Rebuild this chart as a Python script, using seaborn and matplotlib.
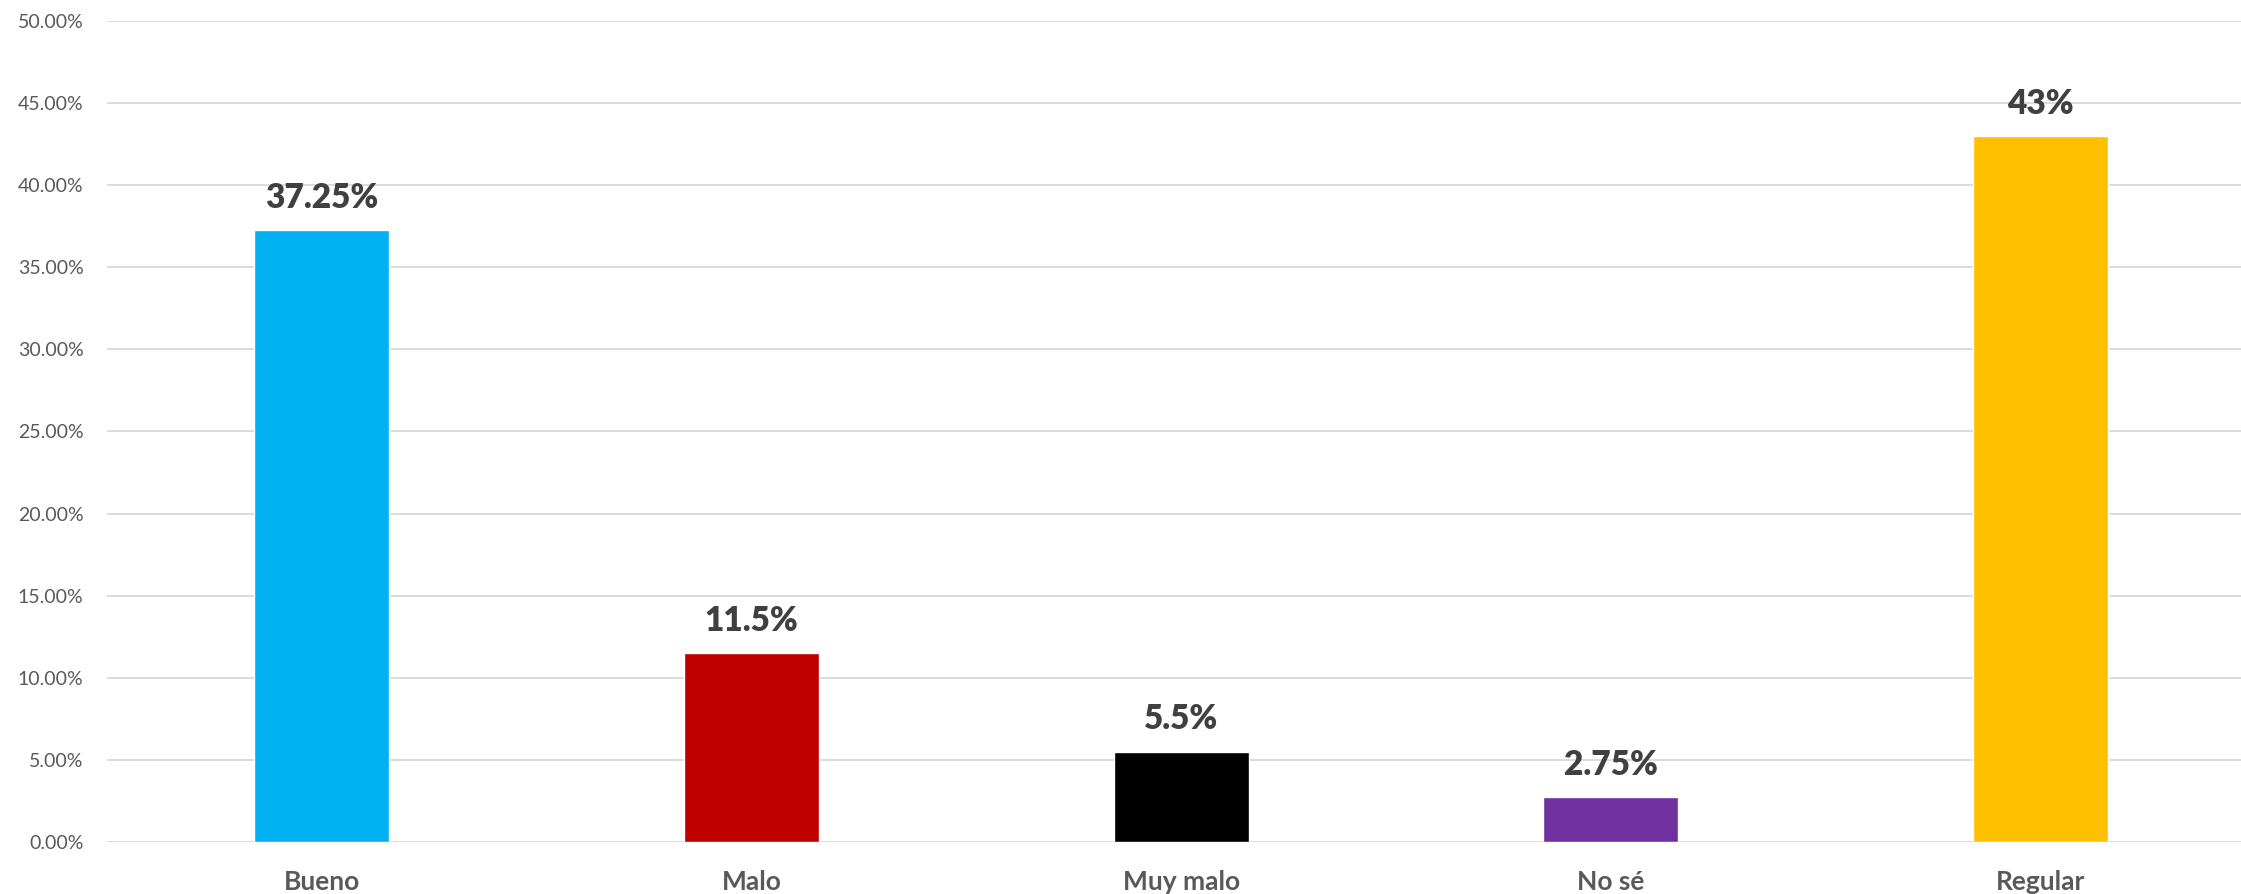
import matplotlib
matplotlib.use("Agg")
import matplotlib.pyplot as plt
import seaborn as sns
import pandas as pd
from matplotlib.ticker import FuncFormatter, MultipleLocator

categories = ["Bueno", "Malo", "Muy malo", "No sé", "Regular"]
values = [37.25, 11.5, 5.5, 2.75, 43]
colors = ["#00B0F0", "#C00000", "#000000", "#7030A0", "#FFC000"]

sns.set_theme(style="white")
plt.rcParams["font.family"] = ["Lato", "DejaVu Sans"]

df = pd.DataFrame({"cat": categories, "val": values})

fig = plt.figure(figsize=(22.41, 8.94), dpi=100)
ax = fig.add_axes([107 / 2241, 52 / 894, 1 - 107 / 2241, (842 - 21) / 894])

sns.barplot(data=df, x="cat", y="val", hue="cat", palette=colors,
            width=0.314, legend=False, ax=ax, saturation=1, zorder=3)

ax.set_ylim(0, 50)
ax.set_xlim(-0.5, 4.467)
ax.yaxis.set_major_locator(MultipleLocator(5))
ax.yaxis.set_major_formatter(FuncFormatter(lambda v, p: f"{v:.2f}%"))
ax.grid(axis="y", color="#d9d9d9", linewidth=1.3, zorder=0)
ax.set_axisbelow(True)
for s in ax.spines.values():
    s.set_visible(False)
ax.set_xlabel("")
ax.set_ylabel("")
ax.tick_params(axis="y", length=0, pad=17, labelsize=14, labelcolor="#595959")
ax.tick_params(axis="x", length=0, pad=20, labelsize=19, labelcolor="#595959")
for lbl in ax.get_xticklabels():
    lbl.set_fontweight("bold")

for i, v in enumerate(values):
    ax.annotate(f"{v:g}%", xy=(i, v), xytext=(0, 16), textcoords="offset points",
                ha="center", va="baseline", fontsize=24, fontweight="heavy",
                color="#404040")

fig.savefig("out.png", dpi=100, facecolor="white")
